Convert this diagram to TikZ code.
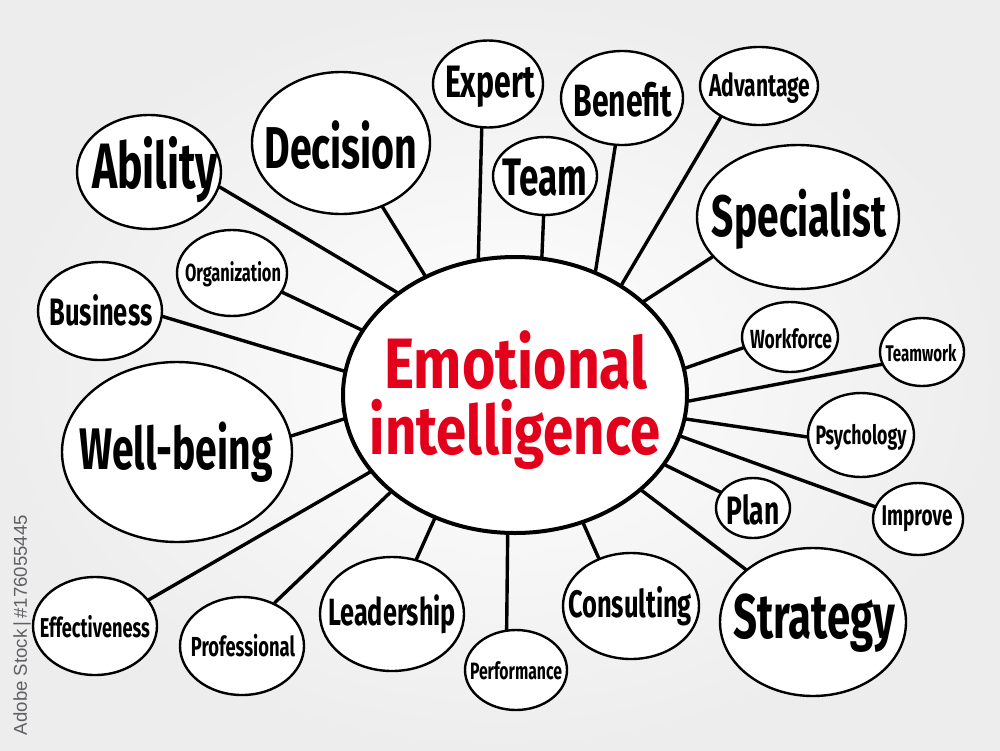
\documentclass[tikz,border=0pt]{standalone}
\usepackage{fontspec}
\usepackage{graphicx}
\usetikzlibrary{shapes.geometric}
\newfontfamily\hand{Fira Sans}
\newfontfamily\wmfont{Liberation Sans}
\definecolor{eired}{RGB}{226,0,26}
\definecolor{wmgray}{RGB}{95,95,100}
\newsavebox\zzbox
\newlength\zzlen
% zero-size box whose ink is centred on the reference point
\newcommand\zbox[1]{\sbox\zzbox{#1}\setlength\zzlen{\ht\zzbox}\addtolength\zzlen{-\dp\zzbox}\raisebox{-0.5\zzlen}[0pt][0pt]{\makebox[0pt]{\usebox\zzbox}}}
\newcommand\lbl[2]{\zbox{\resizebox{#1pt}{!}{\scalebox{1}[1.5]{\hand\bfseries #2}}}}
\newcommand\redlbl[2]{\resizebox{#1pt}{!}{\scalebox{1}[1.25]{\hand\bfseries #2}}}
\tikzset{
  bubble/.style={ellipse, draw=black, line width=2.4pt, fill=white, inner sep=0pt, text=black},
  hub/.style={ellipse, draw=black, line width=4pt, fill=white, inner sep=0pt},
  link/.style={draw=black, line width=3.4pt, line cap=round},
  redtext/.style={inner sep=0pt, anchor=base, text=eired},
  txt/.style={inner sep=0pt}
}
\begin{document}
\begin{tikzpicture}[x=1pt,y=-1pt]
\useasboundingbox (0,0) rectangle (1000,750);
\shade[inner color=white, outer color=black!7] (0,0) rectangle (1000,750);

% hub
\node[hub, minimum width=344pt, minimum height=276pt] (c) at (515,395) {};
\node[redtext] (emo1) at (516,388) {\redlbl{263}{Emotional}};
\node[redtext] (emo2) at (515,454) {\redlbl{290}{intelligence}};

% bubbles
\node[bubble, minimum width=144pt, minimum height=114pt] (abi) at (149,172) {};
\node[bubble, minimum width=178pt, minimum height=142pt] (dec) at (341,143) {};
\node[bubble, minimum width=110pt, minimum height=87pt] (exp) at (488,84) {};
\node[bubble, minimum width=122pt, minimum height=94pt] (ben) at (622,98) {};
\node[bubble, minimum width=118pt, minimum height=78pt] (adv) at (759,86) {};
\node[bubble, minimum width=104pt, minimum height=78pt] (team) at (545,176) {};
\node[bubble, minimum width=202pt, minimum height=144pt] (spe) at (798,217) {};
\node[bubble, minimum width=96pt, minimum height=70pt] (wf) at (790,337) {};
\node[bubble, minimum width=84pt, minimum height=68pt] (tw) at (922,352) {};
\node[bubble, minimum width=106pt, minimum height=84pt] (psy) at (861,435) {};
\node[bubble, minimum width=90pt, minimum height=72pt] (imp) at (918,519) {};
\node[bubble, minimum width=74pt, minimum height=60pt] (plan) at (753,508) {};
\node[bubble, minimum width=186pt, minimum height=148pt] (str) at (813,622) {};
\node[bubble, minimum width=136pt, minimum height=106pt] (con) at (631,606) {};
\node[bubble, minimum width=102pt, minimum height=80pt] (perf) at (516,670) {};
\node[bubble, minimum width=144pt, minimum height=114pt] (lead) at (392,614) {};
\node[bubble, minimum width=124pt, minimum height=98pt] (prof) at (242,646) {};
\node[bubble, minimum width=124pt, minimum height=98pt] (eff) at (95,626) {};
\node[bubble, minimum width=230pt, minimum height=180pt] (well) at (177,452) {};
\node[bubble, minimum width=124pt, minimum height=98pt] (bus) at (100,311) {};
\node[bubble, minimum width=110pt, minimum height=86pt] (org) at (232,273) {};

% labels (centred in their bubbles)
\node[txt] (tabi) at (155,170) {\lbl{126}{Ability}};
\node[txt] (tdec) at (341,145) {\lbl{153}{Decision}};
\node[txt] (texp) at (490,87) {\lbl{90}{Expert}};
\node[txt] (tben) at (623,100) {\lbl{99}{Benefit}};
\node[txt] (tadv) at (760,88) {\lbl{101}{Advantage}};
\node[txt] (tteam) at (545,178) {\lbl{85}{Team}};
\node[txt] (tspe) at (799,219) {\lbl{174}{Specialist}};
\node[txt] (twf) at (791,339) {\lbl{82}{Workforce}};
\node[txt] (ttw) at (921,353) {\lbl{71}{Teamwork}};
\node[txt] (tpsy) at (861,437) {\lbl{91}{Psychology}};
\node[txt] (timp) at (917,519) {\lbl{71}{Improve}};
\node[txt] (tplan) at (753,510) {\lbl{53}{Plan}};
\node[txt] (tstr) at (814,623) {\lbl{162}{Strategy}};
\node[txt] (tcon) at (630,606) {\lbl{124}{Consulting}};
\node[txt] (tperf) at (516,671) {\lbl{92}{Performance}};
\node[txt] (tlead) at (392,614) {\lbl{128}{Leadership}};
\node[txt] (tprof) at (243,646) {\lbl{104}{Professional}};
\node[txt] (teff) at (95,627) {\lbl{110}{Effectiveness}};
\node[txt] (twell) at (176,452) {\lbl{193}{Well-being}};
\node[txt] (tbus) at (101,310) {\lbl{103}{Business}};
\node[txt] (torg) at (233,274) {\lbl{96}{Organization}};

% connectors
\draw[link] (abi.-12) -- (c.139);
\draw[link] (dec.-57) -- (c.127);
\draw[link] (exp.-98) -- (c.105);
\draw[link] (team.-92) -- (c.79);
\draw[link] (ben.-98) -- (c.57);
\draw[link] (adv.-141) -- (c.46);
\draw[link] (spe.-155) -- (c.36);
\draw[link] (org.-21) -- (c.157);
\draw[link] (bus.-5) -- (c.172);
\draw[link] (wf.-167) -- (c.9);
\draw[link] (tw.-163) -- (c.-2);
\draw[link] (psy.-178) -- (c.-8);
\draw[link] (imp.164) -- (c.-14);
\draw[link] (plan.154) -- (c.-25);
\draw[link] (str.142) -- (c.-37);
\draw[link] (con.124) -- (c.-62);
\draw[link] (perf.103) -- (c.-93);
\draw[link] (lead.66) -- (c.-123);
\draw[link] (prof.53) -- (c.-142);
\draw[link] (eff.26) -- (c.-152);
\draw[link] (well.8) -- (c.-172);

% side credit
\node[rotate=90, text=wmgray, inner sep=0pt] (credit) at (22,625) {\resizebox{220pt}{!}{\wmfont Adobe Stock\,|\,\#176055445}};
\end{tikzpicture}
\end{document}
